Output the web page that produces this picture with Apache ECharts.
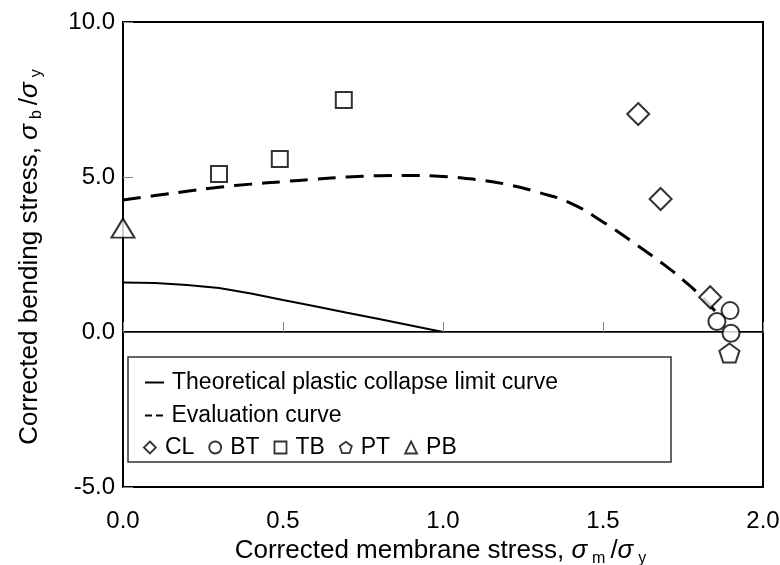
<!DOCTYPE html>
<html><head><meta charset="utf-8">
<script src="https://cdn.jsdelivr.net/npm/echarts@6/dist/echarts.min.js"></script>
<style>html,body{margin:0;padding:0;background:#fff}#c{width:780px;height:565px}</style>
</head><body><div id="c"></div>
<script>
// Theoretical plastic collapse limit curve
const theoX = [0, 0.1, 0.2, 0.3, 0.4, 0.5, 0.6, 0.7, 0.8, 0.9, 1.0];
const theoY = [1.60, 1.58, 1.52, 1.42, 1.24, 1.03, 0.83, 0.62, 0.42, 0.21, 0.0];
// Evaluation curve
const evalX = [0, 0.1, 0.2, 0.3, 0.4, 0.5, 0.6, 0.7, 0.8, 0.9, 1.0, 1.1, 1.2, 1.3, 1.4, 1.5, 1.6, 1.7, 1.75, 1.8, 1.85];
const evalY = [4.26, 4.40, 4.54, 4.67, 4.77, 4.85, 4.93, 5.00, 5.04, 5.05, 5.02, 4.92, 4.76, 4.50, 4.15, 3.55, 2.85, 2.10, 1.68, 1.22, 0.68];
// Test data
const clX = [1.61, 1.68, 1.835];
const clY = [7.03, 4.29, 1.12];
const btX = [1.897, 1.856, 1.90];
const btY = [0.69, 0.34, -0.04];
const tbX = [0.30, 0.49, 0.69];
const tbY = [5.10, 5.58, 7.48];
const ptX = [1.895];
const ptY = [-0.68];
const pbX = [0.0];
const pbY = [3.35];
// Axes
const xMin = 0, xMax = 2.0, xStep = 0.5;
const yMin = -5.0, yMax = 10.0, yStep = 5.0;
const legendNames = ['CL', 'BT', 'TB', 'PT', 'PB'];

const zip = (xs, ys) => xs.map((x, i) => [x, ys[i]]);
const pentagon = 'path://M50,0 L97.55,34.55 L79.39,90.45 L20.61,90.45 L2.45,34.55 Z';
const FONT = 'Liberation Sans, Arial, sans-serif';
const mk = {color: '#fff', borderColor: '#000', borderWidth: 2};
const nameRich = {
  s: {fontSize: 26, fontStyle: 'italic', fontFamily: FONT},
  sub: {fontSize: 16, padding: [15, 5, 0, 5], fontFamily: FONT},
  n: {fontSize: 26, fontFamily: FONT}
};

const chart = echarts.init(document.getElementById('c'), null, {renderer: 'canvas'});
chart.setOption({
  animation: false,
  backgroundColor: '#fff',
  textStyle: {fontFamily: FONT, color: '#000'},
  grid: {left: 123, right: 17, top: 22, bottom: 78, containLabel: false, outerBoundsMode: 'none',
    show: true, borderColor: '#000', borderWidth: 2, backgroundColor: 'transparent'},
  xAxis: {
    type: 'value', min: xMin, max: xMax, interval: xStep,
    axisLine: {show: true, lineStyle: {color: '#000', width: 2}},
    axisTick: {show: true, inside: true, length: 10, lineStyle: {color: '#888', width: 1}},
    splitLine: {show: false},
    axisLabel: {fontSize: 24, color: '#000', fontFamily: FONT, margin: 22, formatter: v => v.toFixed(1)},
    name: 'Corrected membrane stress, {s|σ}{sub|m}{n|/}{s|σ}{sub|y}',
    nameLocation: 'middle', nameGap: 40,
    nameTextStyle: {fontSize: 26, color: '#000', fontFamily: FONT, rich: nameRich}
  },
  yAxis: {
    type: 'value', min: yMin, max: yMax, interval: yStep,
    axisLine: {show: true, lineStyle: {color: '#000', width: 2}},
    axisTick: {show: true, inside: true, length: 10, lineStyle: {color: '#888', width: 1}},
    splitLine: {show: false},
    axisLabel: {fontSize: 24, color: '#000', fontFamily: FONT, margin: 8, formatter: v => v.toFixed(1)},
    name: 'Corrected bending stress, {s|σ}{sub|b}{n|/}{s|σ}{sub|y}',
    nameLocation: 'middle', nameGap: 78,
    nameTextStyle: {fontSize: 26, color: '#000', fontFamily: FONT, rich: nameRich}
  },
  legend: [
    {data: [{name: 'Theoretical plastic collapse limit curve', icon: 'rect'}], left: 140, top: 366, itemWidth: 19, itemHeight: 2, selectedMode: false,
      textStyle: {fontSize: 23, fontFamily: FONT, color: '#000', padding: [0, 0, 0, 3]}},
    {data: [{name: 'Evaluation curve', icon: 'path://M0,0 H7 V2 H0 Z M11,0 H18 V2 H11 Z'}], left: 140, top: 399, itemWidth: 19, itemHeight: 2, selectedMode: false,
      textStyle: {fontSize: 23, fontFamily: FONT, color: '#000', padding: [0, 0, 0, 3]}},
    {data: legendNames, left: 138, top: 431, orient: 'horizontal', itemWidth: 12, itemHeight: 12, itemGap: 14, selectedMode: false,
      itemStyle: {borderWidth: 1.8},
      textStyle: {fontSize: 23, fontFamily: FONT, color: '#000', padding: [0, 0, 0, 4]}}
  ],
  graphic: [{type: 'rect', shape: {x: 128, y: 357, width: 543, height: 105}, style: {fill: '#fff', stroke: '#333', lineWidth: 1.5}, z: 0, silent: true}],
  series: [
    {name: 'Theoretical plastic collapse limit curve', type: 'line', data: zip(theoX, theoY), symbol: 'none', smooth: false,
      color: '#000', itemStyle: {color: '#000'}, lineStyle: {color: '#000', width: 2}, z: 2,
      markLine: {silent: true, symbol: 'none', label: {show: false}, lineStyle: {color: '#444', width: 1, type: 'solid'}, data: [{yAxis: 0}]}},
    {name: 'Evaluation curve', type: 'line', data: zip(evalX, evalY), symbol: 'none', smooth: true,
      color: '#000', itemStyle: {color: '#000'}, lineStyle: {color: '#000', width: 3, type: [18, 10]}, z: 2},
    {name: 'CL', type: 'scatter', data: zip(clX, clY), symbol: 'diamond', symbolSize: 22, itemStyle: mk, z: 5},
    {name: 'BT', type: 'scatter', data: zip(btX, btY), symbol: 'circle', symbolSize: 17, itemStyle: mk, z: 5},
    {name: 'TB', type: 'scatter', data: zip(tbX, tbY), symbol: 'rect', symbolSize: 16, itemStyle: mk, z: 5},
    {name: 'PT', type: 'scatter', data: zip(ptX, ptY), symbol: pentagon, symbolSize: [20, 19], itemStyle: mk, z: 5},
    {name: 'PB', type: 'scatter', data: zip(pbX, pbY), symbol: 'triangle', symbolSize: [23, 19], itemStyle: mk, z: 5, clip: false}
  ]
});
</script>
</body></html>
